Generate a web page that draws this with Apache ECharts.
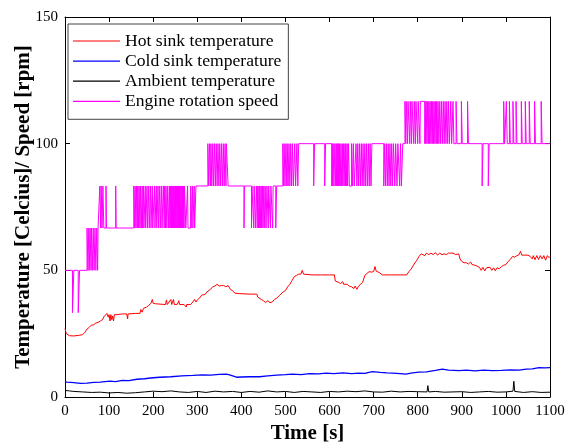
<!DOCTYPE html>
<html>
<head>
<meta charset="utf-8">
<script src="https://cdn.jsdelivr.net/npm/echarts@6/dist/echarts.min.js"></script>
<style>
    html, body { margin: 0; padding: 0; background: #fff; }
    #chart { width: 571px; height: 445px; }
</style>
</head>
<body>
<div id="chart"></div>
<script>
// 图例名称
const seriesNames = ['Hot sink temperature', 'Cold sink temperature', 'Ambient temperature', 'Engine rotation speed'];

// 热端温度 [时间 s, 温度]
const hotSink = [
    [0,27],[3,25],[6,24.5],[10,24.2],[20,24.1],[30,24.3],[40,24.6],[45,25.5],[50,26.8],[55,27.5],[60,28.4],[65,28.5],
    [70,29.2],[75,29.4],[80,30],[85,30.5],[88,31.6],[92,31.8],[95,33],[98,31.5],[100,32.5],[102,30],[104,32.5],[106,30.5],
    [108,32],[110,30],[112,32.5],[118,32.5],[130,32.8],[140,32.8],[142,30.8],[143,32.8],[160,33],[170,33],[172,34.5],
    [175,33.5],[178,35],[185,35.5],[190,36.2],[195,37],[198,38.5],[200,37],[205,36.8],[220,36.6],[228,36.5],[230,38.3],
    [232,36.5],[236,36.8],[240,38.5],[242,36.5],[246,38.5],[248,36.5],[255,36.6],[258,38],[260,36.5],[270,36.5],[275,35.5],
    [276,36.5],[285,36.5],[290,37.5],[294,38.5],[297,37.5],[300,38.3],[305,39],[310,40.2],[318,40.5],[322,41.5],[326,42],
    [330,42.5],[335,43.5],[340,43.8],[345,44.5],[350,43.8],[355,44],[360,44],[365,43.5],[370,44],[375,42.5],[380,42],
    [385,41],[395,40.8],[420,40.6],[435,40.6],[437,39.5],[440,38.8],[445,38.5],[450,38],[455,37.3],[460,38],[465,37.2],
    [470,37.5],[475,38.5],[480,39],[486,40],[490,40.2],[495,41.5],[500,42],[505,43.5],[510,44.5],[515,46],[520,47.5],
    [525,48],[530,48.5],[535,48.5],[538,50],[541,48.5],[545,48.2],[560,48.2],[580,48.2],[600,48.2],[611,48.2],[613,45.8],
    [620,45.3],[625,44.8],[630,45.5],[632,44.5],[640,44.5],[645,43.7],[650,43.5],[655,42.8],[658,43.8],[662,42.5],
    [665,43.5],[670,44.5],[675,45.2],[680,48],[685,48.8],[690,49.5],[695,49.3],[700,49.5],[703,51.5],[706,49.6],
    [712,49.2],[720,48.2],[740,48.2],[760,48.2],[775,48.2],[780,49.5],[785,50.5],[792,52.5],[798,54],[803,55.5],
    [808,56.5],[812,56.8],[816,55.8],[820,56.8],[825,56.2],[830,56.8],[835,56.2],[840,57],[845,56],[850,56.8],
    [855,56.2],[860,56.5],[865,56.2],[870,56.8],[875,56.8],[880,56.8],[886,56.2],[893,56.5],[896,54.5],[900,53.5],
    [905,53],[910,53],[915,52.5],[920,53.3],[923,52.3],[930,52],[935,51.6],[940,51.2],[944,50],[948,51.2],[952,49.8],
    [956,51],[960,50.3],[964,51.2],[968,50],[972,51],[976,49.8],[980,51],[985,50.6],[990,51.5],[995,52],[1000,52.3],
    [1005,53.5],[1010,54.3],[1015,55.5],[1020,55.2],[1025,55.8],[1030,56.2],[1033,57.5],[1036,56],[1040,55.8],
    [1050,56],[1055,55.5],[1060,54.5],[1062,55.8],[1066,54.2],[1070,55.8],[1074,54.3],[1078,55.8],[1082,54.5],
    [1086,55.8],[1090,54],[1094,55.8],[1098,55],[1100,55.5]
];

// 冷端温度
const coldSink = [
    [0,6],[5,5.9],[20,5.7],[35,5.4],[50,5.5],[65,5.8],[80,5.9],[102,6.3],[115,6.1],[130,6.6],[145,6.5],[163,7],
    [180,7.2],[200,7.6],[215,7.8],[240,8],[265,8.3],[290,8.5],[312,8.7],[330,8.6],[350,8.9],[366,9],[375,8.6],
    [389,7.8],[400,7.9],[420,8],[441,8],[460,8.3],[480,8.6],[500,8.8],[516,9],[535,8.8],[555,9.2],[575,9.1],[592,9.4],
    [610,9.2],[630,9.5],[650,9.2],[667,9.4],[680,9.3],[697,10],[715,9.7],[730,9.5],[743,9.4],[760,9.2],[773,9],
    [788,9.5],[803,9.8],[820,9.9],[840,10.5],[856,11],[870,10.6],[894,10.4],[910,10.6],[930,10.3],[950,10.6],
    [969,10.4],[990,10.5],[1010,10.7],[1030,10.6],[1046,11],[1060,11.1],[1075,11.6],[1088,11.5],[1100,11.6]
];

// 环境温度
const ambient = [
    [0,2.6],[10,2.4],[20,2.2],[40,2.0],[60,1.8],[80,1.9],[100,1.6],[120,1.8],[140,1.5],[160,1.7],[180,2],[200,2.3],
    [220,2.1],[240,2.4],[260,2],[280,1.8],[300,2.2],[320,1.8],[340,2.3],[360,2],[380,2.2],[400,1.8],[420,2.2],[440,1.9],
    [460,2.4],[480,2],[500,2.2],[520,1.8],[540,2.2],[560,2],[580,1.8],[600,2.2],[620,2],[640,2.3],[660,2.1],[680,2.4],
    [700,2],[720,1.9],[740,2.3],[760,2],[780,2.2],[800,2.1],[821,2],[823,4.5],[825,2],[840,2.2],[860,1.9],[880,2],
    [900,2.1],[920,1.8],[940,2],[960,2.2],[980,1.9],[1000,2],[1016,2.3],[1018,6.2],[1020,2.2],[1040,1.8],[1060,2.1],
    [1080,1.8],[1100,1.9]
];

// 发动机转速（阶梯，[开始时间, 转速]）
const engineSpeed = [
    [0,50],[17,33.3],[20,50],[30,33.3],[33,50],
    [50,66.7],[52,50],[54,66.7],[55,50],[57,66.7],[59,50],[60,66.7],[62,50],[64,66.7],[66,50],[68,66.7],[70,50],[72,66.7],[74,50],[75,66.7],
    [79,83.3],[81,66.7],[82,83.3],[84,66.7],[86,83.3],[88,66.7],[93,83.3],[94,66.7],[115,83.3],[116,66.7],
    [156,83.3],[158,66.7],[159,83.3],[161,66.7],[162,83.3],[164,66.7],[165,83.3],[167,66.7],[168,83.3],[170,66.7],
    [171,83.3],[173,66.7],[175,83.3],[176,66.7],[178,83.3],[179,66.7],[182,83.3],[183,66.7],[186,83.3],[187,66.7],
    [190,83.3],[191,66.7],[194,83.3],[195,66.7],[198,83.3],[199,66.7],[203,83.3],[204,66.7],[207,83.3],[208,66.7],
    [211,83.3],[212,66.7],[215,83.3],[216,66.7],[219,83.3],[220,66.7],[223,83.3],[225,66.7],[226,83.3],[228,66.7],
    [229,83.3],[231,66.7],[233,83.3],[235,66.7],
    [237,83.3],[238,66.7],[239,83.3],[240,66.7],[241,83.3],[242,66.7],[243,83.3],[244,66.7],[245,83.3],[246,66.7],
    [247,83.3],[248,66.7],[249,83.3],[250,66.7],[251,83.3],[252,66.7],[253,83.3],[254,66.7],[255,83.3],[256,66.7],
    [257,83.3],[258,66.7],[259,83.3],[260,66.7],[261,83.3],[262,66.7],[263,83.3],[264,66.7],[265,83.3],[266,66.7],
    [267,83.3],[268,66.7],[269,83.3],[270,66.7],[271,83.3],
    [272,83.3],[274,66.7],[278,83.3],[279,66.7],[285,83.3],[286,66.7],[289,83.3],[290,66.7],[293,83.3],[294,66.7],[297,83.3],
    [324,100],[326,83.3],[328,100],[330,83.3],[331,100],[333,83.3],[335,100],[337,83.3],[339,100],[341,83.3],[343,100],
    [345,83.3],[347,100],[349,83.3],[351,100],[353,83.3],[355,100],[357,83.3],[359,100],[361,83.3],[363,100],[365,83.3],
    [366,100],[370,83.3],
    [406,66.7],[407,83.3],
    [423,66.7],[424,83.3],[428,66.7],[429,83.3],[432,66.7],[434,83.3],[436,66.7],[437,83.3],[439,66.7],[440,83.3],
    [441,66.7],[442,83.3],[443,66.7],[445,83.3],[446,66.7],[448,83.3],[449,66.7],[451,83.3],[452,66.7],[454,83.3],
    [456,66.7],[458,83.3],[461,66.7],[462,83.3],[466,66.7],[467,83.3],[471,66.7],[472,83.3],[478,66.7],[480,83.3],
    [494,100],[496,83.3],[497,100],[499,83.3],[501,100],[503,83.3],[504,100],[506,83.3],[508,100],[510,83.3],[512,100],
    [514,83.3],[516,100],[518,83.3],[521,100],[523,83.3],[526,100],[528,83.3],[530,100],
    [564,83.3],[566,100],[589,83.3],[591,100],[605,83.3],[606,100],[607,83.3],[608,100],[610,83.3],[612,100],[614,83.3],
    [615,100],[616,83.3],[617,100],[618,83.3],[619,100],[620,83.3],[621,100],[622,83.3],[623,100],[624,83.3],[626,100],
    [627,83.3],[629,100],[630,83.3],[632,100],[633,83.3],[635,100],[636,83.3],[637,100],[638,83.3],[640,100],[641,83.3],
    [643,100],[645,83.3],[650,100],[652,83.3],[654,100],[656,83.3],[660,100],[662,83.3],[664,100],[666,83.3],[668,100],
    [670,83.3],[672,100],[674,83.3],[676,100],[678,83.3],[680,100],[682,83.3],[684,100],[686,83.3],[688,100],[690,83.3],
    [692,100],[694,83.3],[696,100],
    [723,83.3],[725,100],[727,83.3],[729,100],[731,83.3],[733,100],[735,83.3],[737,100],[739,83.3],[741,100],[743,83.3],
    [745,100],[748,83.3],[750,100],[753,83.3],[755,100],[759,83.3],[761,100],[763,83.3],[766,100],
    [771,116.7],[773,100],[774,116.7],[777,100],[778,116.7],[782,100],[783,116.7],[786,100],[787,116.7],[791,100],
    [792,116.7],[795,100],[796,116.7],[800,100],[801,116.7],[805,100],[806,116.7],[816,100],[817,116.7],[818,100],
    [819,116.7],[821,100],[822,116.7],[824,100],[825,116.7],[827,100],[828,116.7],[830,100],[831,116.7],[833,100],
    [834,116.7],[836,100],[837,116.7],[839,100],[840,116.7],[842,100],[843,116.7],[845,100],[846,116.7],[848,100],
    [850,116.7],[852,100],[854,116.7],[856,100],[858,116.7],[860,100],[862,116.7],[864,100],[866,116.7],[868,100],
    [870,116.7],[872,100],[875,116.7],[877,100],[880,116.7],[882,100],[887,116.7],[889,100],[899,116.7],[901,100],
    [913,116.7],[915,100],
    [946,83.3],[948,100],[960,83.3],[962,100],
    [995,116.7],[997,100],[1001,116.7],[1003,100],[1008,116.7],[1010,100],[1016,116.7],[1018,100],[1023,116.7],[1025,100],
    [1035,116.7],[1037,100],[1044,116.7],[1046,100],[1053,116.7],[1055,100],[1065,116.7],[1067,100],[1080,116.7],[1082,100],
    [1100,100]
];

// 坐标轴刻度
const xTicks = { min: 0, max: 1100, interval: 100 };
const yTicks = { min: 0, max: 150, interval: 50 };

const FONT = '"Liberation Serif", "Times New Roman", serif';

const chart = echarts.init(document.getElementById('chart'), null, { renderer: 'canvas' });

// 四周边框带内刻度（类似 MATLAB box on）
function boxAxis(base, extra) {
    return Object.assign({
        type: 'value',
        min: base.min,
        max: base.max,
        interval: base.interval,
        splitLine: { show: false },
        axisLine: { show: true, onZero: false, lineStyle: { color: '#000', width: 1 } },
        axisTick: { show: true, inside: true, length: 5, lineStyle: { color: '#000' } },
        axisLabel: { show: false }
    }, extra);
}

const tickLabel = {
    show: true,
    fontFamily: FONT,
    fontSize: 15,
    color: '#000',
    formatter: function (v) { return String(v); }
};

const option = {
    animation: false,
    backgroundColor: '#fff',
    grid: { left: 65, right: 21, top: 17, bottom: 48, containLabel: false, outerBoundsMode: 'none' },
    legend: {
        data: seriesNames,
        orient: 'vertical',
        left: 68,
        top: 24,
        icon: 'rect',
        itemWidth: 47,
        itemHeight: 1.2,
        itemGap: 2.1,
        padding: [8, 7, 9, 5],
        backgroundColor: '#fff',
        borderColor: '#444',
        borderWidth: 1,
        borderRadius: 0,
        textStyle: { fontFamily: FONT, fontSize: 17.6, color: '#000', lineHeight: 18 }
    },
    xAxis: [
        boxAxis(xTicks, {
            position: 'bottom',
            name: 'Time [s]',
            nameLocation: 'middle',
            nameGap: 26,
            nameMoveOverlap: false,
            nameTextStyle: { fontFamily: FONT, fontSize: 21, fontWeight: 'bold', color: '#000' },
            axisLabel: Object.assign({ margin: 7 }, tickLabel)
        }),
        boxAxis(xTicks, { position: 'top' })
    ],
    yAxis: [
        boxAxis(yTicks, {
            position: 'left',
            name: 'Temperature [Celcius]/ Speed [rpm]',
            nameLocation: 'middle',
            nameGap: 31,
            nameMoveOverlap: false,
            nameTextStyle: { fontFamily: FONT, fontSize: 21, fontWeight: 'bold', color: '#000' },
            axisLabel: Object.assign({ margin: 7 }, tickLabel)
        }),
        boxAxis(yTicks, { position: 'right' })
    ],
    series: [
        {
            name: seriesNames[0], type: 'line', symbol: 'none', data: hotSink,
            lineStyle: { color: '#ff0000', width: 1 }, itemStyle: { color: '#ff0000' }
        },
        {
            name: seriesNames[1], type: 'line', symbol: 'none', data: coldSink,
            lineStyle: { color: '#0000ff', width: 1.3 }, itemStyle: { color: '#0000ff' }
        },
        {
            name: seriesNames[2], type: 'line', symbol: 'none', data: ambient,
            lineStyle: { color: '#000000', width: 1 }, itemStyle: { color: '#000000' }
        },
        {
            name: seriesNames[3], type: 'line', symbol: 'none', step: 'end', data: engineSpeed,
            lineStyle: { color: '#ff00ff', width: 1 }, itemStyle: { color: '#ff00ff' }
        }
    ]
};

chart.setOption(option);
</script>
</body>
</html>
